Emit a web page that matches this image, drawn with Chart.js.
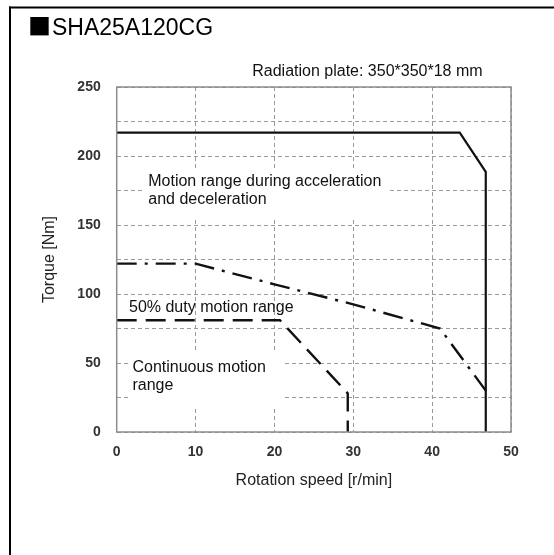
<!DOCTYPE html>
<html>
<head>
<meta charset="utf-8">
<script src="https://cdn.jsdelivr.net/npm/chart.js@4.4.1/dist/chart.umd.min.js"></script>
<style>
    html, body { margin: 0; padding: 0; background: #fff; }
    canvas { display: block; }
</style>
</head>
<body>
<canvas id="myChart" width="554" height="555"></canvas>
<script>
// speed axis ticks [r/min]
const speedTicks = [0, 10, 20, 30, 40, 50];
// torque axis labels [Nm] (grid every 25, labels every 50)
const torqueTicks = [0, 50, 100, 150, 200, 250];

// motion range during acceleration and deceleration (solid)
const accelSpeed = [0, 43.5, 46.8, 46.8];
const accelTorque = [217, 217, 188.5, 0];

// 50% duty motion range (dash-dot)
const dutySpeed = [0, 10, 20, 30, 41, 46.8];
const dutyTorque = [122, 122, 107, 92.5, 75, 30];

// continuous motion range (dashed)
const contSpeed = [0, 20.7, 29.3, 29.3];
const contTorque = [81, 81, 28, 0];

const FONT = '"Liberation Sans", Arial, sans-serif';

// turn two arrays into {x, y} points
function points(xs, ys) {
    return xs.map((x, i) => ({ x: x, y: ys[i] }));
}

/**
 * Texts, label boxes and frames around the chart.
 */
const decorations = {
    id: 'decorations',
    beforeDatasetsDraw(chart) {
        const { ctx } = chart;
        const x = chart.scales.x;
        const y = chart.scales.y;
        ctx.save();

        // white boxes behind the range names hide the grid
        ctx.fillStyle = '#fff';
        const box = (x0, y0, x1, y1) => {
            const px0 = x.getPixelForValue(x0), px1 = x.getPixelForValue(x1);
            const py0 = y.getPixelForValue(y0), py1 = y.getPixelForValue(y1);
            ctx.fillRect(px0, py0, px1 - px0, py1 - py0);
        };
        box(3.3, 191.3, 34.4, 155);
        box(1.7, 57.2, 21.1, 18.1);

        // range names
        ctx.fillStyle = '#111';
        ctx.font = '16px ' + FONT;
        ctx.textAlign = 'left';
        ctx.textBaseline = 'alphabetic';
        const text = (t, vx, vy) => ctx.fillText(t, x.getPixelForValue(vx), y.getPixelForValue(vy));
        text('Motion range during acceleration', 4.0, 178.3);
        text('and deceleration', 4.0, 165.0);
        text('50% duty motion range', 1.56, 87.2);
        text('Continuous motion', 2.0, 43.7);
        text('range', 2.0, 30.4);

        // radiation plate note above the plot
        ctx.textAlign = 'right';
        text('Radiation plate: 350*350*18 mm', 46.4, 257.8);
        ctx.restore();
    },
    afterDraw(chart) {
        const { ctx, chartArea } = chart;
        ctx.save();

        // grey frame of the plot area
        ctx.strokeStyle = '#8c8c8c';
        ctx.lineWidth = 1.5;
        ctx.strokeRect(chartArea.left, chartArea.top, chartArea.right - chartArea.left, chartArea.bottom - chartArea.top);

        // black frame on top and left of the figure
        ctx.fillStyle = '#000';
        ctx.fillRect(9, 6.5, 545, 2);
        ctx.fillRect(9, 6.5, 2, 549);

        // heading
        ctx.textBaseline = 'alphabetic';
        ctx.textAlign = 'left';
        ctx.font = '23px "Noto Sans CJK JP", sans-serif';
        ctx.fillText('■', 28, 35);
        ctx.font = '23px ' + FONT;
        ctx.fillText('SHA25A120CG', 52, 35);
        ctx.restore();
    }
};

const ctx = document.getElementById('myChart').getContext('2d');
new Chart(ctx, {
    type: 'line',
    data: {
        datasets: [{
            label: 'Motion range during acceleration and deceleration',
            data: points(accelSpeed, accelTorque),
            borderColor: '#111',
            borderWidth: 2.2,
            borderJoinStyle: 'miter'
        }, {
            label: '50% duty motion range',
            data: points(dutySpeed, dutyTorque),
            borderColor: '#111',
            borderWidth: 2.4,
            borderDash: [20, 8, 3, 8]
        }, {
            label: 'Continuous motion range',
            data: points(contSpeed, contTorque),
            borderColor: '#111',
            borderWidth: 2.4,
            borderDash: [20, 9]
        }]
    },
    options: {
        responsive: false,
        animation: false,
        devicePixelRatio: 1,
        elements: {
            point: { radius: 0 },
            line: { tension: 0, fill: false }
        },
        layout: { padding: { left: 20, top: 87, right: 43, bottom: 63 } },
        plugins: {
            legend: { display: false },
            tooltip: { enabled: false }
        },
        scales: {
            x: {
                type: 'linear',
                min: 0,
                max: 50,
                afterBuildTicks: (scale) => {
                    scale.ticks = speedTicks.map(v => ({ value: v }));
                },
                afterFit: (scale) => { scale.height = 60; },
                grid: { color: '#9a9a9a', lineWidth: 1, drawTicks: false },
                border: { display: false, dash: [4, 3] },
                ticks: {
                    color: '#333',
                    padding: 12,
                    maxRotation: 0,
                    font: { family: FONT, size: 14, weight: 'bold' }
                },
                title: {
                    display: true,
                    text: 'Rotation speed [r/min]',
                    color: '#222',
                    font: { family: FONT, size: 16 },
                    padding: { top: 0, bottom: 1.4 }
                }
            },
            y: {
                type: 'linear',
                min: 0,
                max: 250,
                afterFit: (scale) => { scale.width = 96.7; },
                grid: { color: '#9a9a9a', lineWidth: 1, drawTicks: false },
                border: { display: false, dash: [4, 3] },
                ticks: {
                    stepSize: 25,
                    color: '#333',
                    padding: 16,
                    font: { family: FONT, size: 14, weight: 'bold' },
                    callback: (v) => torqueTicks.includes(v) ? v : ''
                },
                title: {
                    display: true,
                    text: 'Torque [Nm]',
                    color: '#222',
                    font: { family: FONT, size: 16 },
                    padding: { top: 20.4, bottom: 0 }
                }
            }
        }
    },
    plugins: [decorations]
});
</script>
</body>
</html>
